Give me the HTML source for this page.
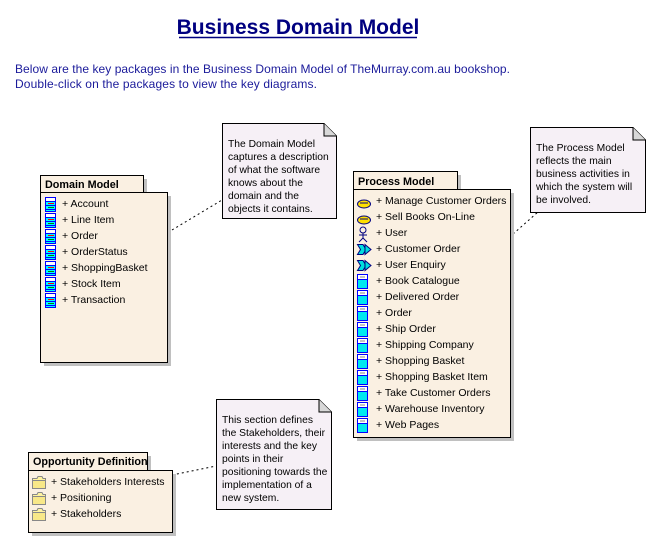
<!DOCTYPE html>
<html><head><meta charset="utf-8"><style>
html,body{margin:0;padding:0;background:#fff;}
svg{display:block;font-family:"Liberation Sans",Arial,sans-serif;}
.t{font-size:10.5px;fill:#000;}
.n{font-size:10.3px;fill:#000;}
.h{font-size:10.8px;font-weight:bold;fill:#000;}
</style></head><body>
<svg width="655" height="542" viewBox="0 0 655 542" xmlns="http://www.w3.org/2000/svg">
<defs>
<g id="cls"><rect x="0.5" y="0.5" width="10" height="14" fill="#00ffff" stroke="#0000ff"/><rect x="1" y="1" width="9" height="3" fill="#fff"/><line x1="1" y1="4.5" x2="10" y2="4.5" stroke="#0000ff"/><line x1="3" y1="6.5" x2="9" y2="6.5" stroke="#ff0000"/><line x1="1" y1="8.5" x2="10" y2="8.5" stroke="#0000ff"/><line x1="3" y1="10.5" x2="9" y2="10.5" stroke="#008000"/><line x1="1" y1="12.5" x2="10" y2="12.5" stroke="#0000ff"/></g>
<g id="pc"><rect x="0.5" y="0.5" width="10" height="14" fill="#00e8f0" stroke="#0000ff"/><rect x="1" y="1" width="9" height="4" fill="#fff"/><line x1="1" y1="5.5" x2="10" y2="5.5" stroke="#0000ff"/><line x1="3" y1="3" x2="8" y2="3" stroke="#888"/></g>
<g id="uc"><ellipse cx="7" cy="7" rx="6.5" ry="4" fill="#ffe000" stroke="#000080"/><line x1="3" y1="6" x2="11" y2="6" stroke="#000080"/></g>
<g id="ev"><path d="M0.5 2.5 H6 L9 7.5 L6 12.5 H0.5 L3.5 7.5Z" fill="#00dddd" stroke="#000080"/><path d="M8 2.5 L14 7.5 L8 12.5 Z" fill="#00dddd" stroke="#000080"/></g>
<g id="fd"><path d="M0.5 3.5 H5 L6 1.5 H10 L11 3.5 H13.5 V13.5 H0.5Z" fill="#fff4a0" stroke="#888"/><rect x="0.5" y="5.5" width="13" height="8" fill="#f8e888" stroke="#888"/></g>
</defs>

<text x="298" y="34" text-anchor="middle" font-size="21" font-weight="bold" fill="#000080">Business Domain Model</text>
<line x1="179" y1="37.5" x2="417" y2="37.5" stroke="#000080" stroke-width="1.5"/>
<text x="15" y="73" font-size="12" fill="#1a1a9a" textLength="495">Below are the key packages in the Business Domain Model of TheMurray.com.au bookshop.</text>
<text x="15" y="88" font-size="12" fill="#1a1a9a" textLength="302">Double-click on the packages to view the key diagrams.</text>

<!-- connectors -->
<line x1="172" y1="230" x2="222" y2="200" stroke="#000" stroke-dasharray="2,3"/>
<line x1="513" y1="234" x2="538" y2="212" stroke="#000" stroke-dasharray="2,3"/>
<line x1="172" y1="475" x2="216" y2="466" stroke="#000" stroke-dasharray="2,3"/>

<!-- Domain Model -->
<rect x="44" y="179" width="103" height="17" fill="#c0c0c0"/>
<rect x="44" y="196" width="127" height="170" fill="#c0c0c0"/>
<rect x="40.5" y="175.5" width="103" height="17" fill="#faf0e2" stroke="#000"/>
<rect x="40.5" y="192.5" width="127" height="170" fill="#faf0e2" stroke="#000"/>
<text x="45" y="188" class="h">Domain Model</text>
<use href="#cls" x="45" y="197"/><text x="62" y="207" class="t">+ Account</text>
<use href="#cls" x="45" y="213"/><text x="62" y="223" class="t">+ Line Item</text>
<use href="#cls" x="45" y="229"/><text x="62" y="239" class="t">+ Order</text>
<use href="#cls" x="45" y="245"/><text x="62" y="255" class="t">+ OrderStatus</text>
<use href="#cls" x="45" y="261"/><text x="62" y="271" class="t">+ ShoppingBasket</text>
<use href="#cls" x="45" y="277"/><text x="62" y="287" class="t">+ Stock Item</text>
<use href="#cls" x="45" y="293"/><text x="62" y="303" class="t">+ Transaction</text>

<!-- Note 1 -->
<path d="M222.5 123.5 H324 L336.5 136 V218.5 H222.5Z" fill="#f6f0f6" stroke="#000"/>
<path d="M324 123.5 V136 H336.5" fill="#d8d8d8" stroke="#000"/>
<text class="n"><tspan x="228" y="147">The Domain Model</tspan><tspan x="228" y="160">captures a description</tspan><tspan x="228" y="173">of what the software</tspan><tspan x="228" y="186">knows about the</tspan><tspan x="228" y="199">domain and the</tspan><tspan x="228" y="212">objects it contains.</tspan></text>

<!-- Process Model -->
<rect x="357" y="175" width="104" height="18" fill="#c0c0c0"/>
<rect x="357" y="193" width="157" height="248" fill="#c0c0c0"/>
<rect x="353.5" y="171.5" width="104" height="18" fill="#faf0e2" stroke="#000"/>
<rect x="353.5" y="189.5" width="157" height="248" fill="#faf0e2" stroke="#000"/>
<text x="358" y="185" class="h">Process Model</text>
<use href="#uc" x="357" y="197"/><text x="376" y="204" class="t">+ Manage Customer Orders</text>
<use href="#uc" x="357" y="213"/><text x="376" y="220" class="t">+ Sell Books On-Line</text>
<g stroke="#000080" fill="none"><circle cx="363" cy="230" r="3"/><line x1="363" y1="233" x2="363" y2="238"/><line x1="359" y1="235" x2="367" y2="235"/><line x1="363" y1="238" x2="359" y2="242"/><line x1="363" y1="238" x2="367" y2="242"/></g><text x="376" y="236" class="t">+ User</text>
<use href="#ev" x="357" y="242"/><text x="376" y="252" class="t">+ Customer Order</text>
<use href="#ev" x="357" y="258"/><text x="376" y="268" class="t">+ User Enquiry</text>
<use href="#pc" x="357" y="274"/><text x="376" y="284" class="t">+ Book Catalogue</text>
<use href="#pc" x="357" y="290"/><text x="376" y="300" class="t">+ Delivered Order</text>
<use href="#pc" x="357" y="306"/><text x="376" y="316" class="t">+ Order</text>
<use href="#pc" x="357" y="322"/><text x="376" y="332" class="t">+ Ship Order</text>
<use href="#pc" x="357" y="338"/><text x="376" y="348" class="t">+ Shipping Company</text>
<use href="#pc" x="357" y="354"/><text x="376" y="364" class="t">+ Shopping Basket</text>
<use href="#pc" x="357" y="370"/><text x="376" y="380" class="t">+ Shopping Basket Item</text>
<use href="#pc" x="357" y="386"/><text x="376" y="396" class="t">+ Take Customer Orders</text>
<use href="#pc" x="357" y="402"/><text x="376" y="412" class="t">+ Warehouse Inventory</text>
<use href="#pc" x="357" y="418"/><text x="376" y="428" class="t">+ Web Pages</text>

<!-- Note 2 -->
<path d="M530.5 127.5 H633 L645.5 140 V212.5 H530.5Z" fill="#f6f0f6" stroke="#000"/>
<path d="M633 127.5 V140 H645.5" fill="#d8d8d8" stroke="#000"/>
<text class="n"><tspan x="536" y="151">The Process Model</tspan><tspan x="536" y="164">reflects the main</tspan><tspan x="536" y="177">business activities in</tspan><tspan x="536" y="190">which the system will</tspan><tspan x="536" y="203">be involved.</tspan></text>

<!-- Opportunity Definition -->
<rect x="32" y="456" width="119" height="18" fill="#c0c0c0"/>
<rect x="32" y="474" width="144" height="62" fill="#c0c0c0"/>
<rect x="28.5" y="452.5" width="119" height="18" fill="#faf0e2" stroke="#000"/>
<rect x="28.5" y="470.5" width="144" height="62" fill="#faf0e2" stroke="#000"/>
<text x="33" y="465" class="h">Opportunity Definition</text>
<use href="#fd" x="32" y="475"/><text x="51" y="485" class="t">+ Stakeholders Interests</text>
<use href="#fd" x="32" y="491"/><text x="51" y="501" class="t">+ Positioning</text>
<use href="#fd" x="32" y="507"/><text x="51" y="517" class="t">+ Stakeholders</text>

<!-- Note 3 -->
<path d="M216.5 399.5 H319 L331.5 412 V509.5 H216.5Z" fill="#f6f0f6" stroke="#000"/>
<path d="M319 399.5 V412 H331.5" fill="#d8d8d8" stroke="#000"/>
<text class="n"><tspan x="222" y="423">This section defines</tspan><tspan x="222" y="436">the Stakeholders, their</tspan><tspan x="222" y="449">interests and the key</tspan><tspan x="222" y="462">points in their</tspan><tspan x="222" y="475">positioning towards the</tspan><tspan x="222" y="488">implementation of a</tspan><tspan x="222" y="501">new system.</tspan></text>
</svg>
</body></html>
